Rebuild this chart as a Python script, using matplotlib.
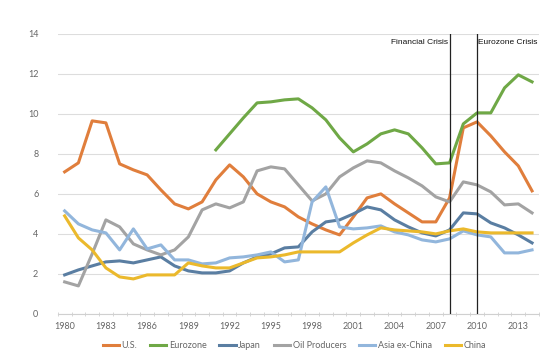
import matplotlib
matplotlib.use("Agg")
import matplotlib.pyplot as plt
import numpy as np

plt.rcParams['font.family'] = ['Lato', 'DejaVu Sans']

years = np.arange(1980, 2015)

us = [7.1, 7.55, 9.65, 9.55, 7.5, 7.2, 6.95, 6.2, 5.5, 5.25, 5.6, 6.7, 7.45, 6.85, 6.0,
      5.6, 5.35, 4.85, 4.5, 4.2, 3.95, 4.85, 5.8, 6.0, 5.5, 5.05, 4.6, 4.6, 5.8, 9.3,
      9.6, 8.9, 8.1, 7.4, 6.15]
euro_years = np.arange(1991, 2015)
eurozone = [8.2, 9.0, 9.8, 10.55, 10.6, 10.7, 10.75, 10.3, 9.7, 8.8, 8.1, 8.5, 9.0, 9.2,
            9.0, 8.3, 7.5, 7.55, 9.5, 10.05, 10.05, 11.3, 11.95, 11.6]
japan = [1.95, 2.2, 2.4, 2.6, 2.65, 2.55, 2.7, 2.85, 2.4, 2.15, 2.05, 2.05, 2.15, 2.55, 2.85,
         3.0, 3.3, 3.35, 4.1, 4.6, 4.7, 5.0, 5.35, 5.2, 4.7, 4.35, 4.05, 3.9, 4.2, 5.05,
         5.0, 4.55, 4.3, 3.95, 3.55]
oil = [1.6, 1.4, 3.0, 4.7, 4.35, 3.5, 3.2, 2.95, 3.2, 3.85, 5.2, 5.5, 5.3, 5.6, 7.15,
       7.35, 7.25, 6.45, 5.65, 6.0, 6.85, 7.3, 7.65, 7.55, 7.15, 6.8, 6.4, 5.85, 5.6, 6.6,
       6.45, 6.1, 5.45, 5.5, 5.05]
asia = [5.15, 4.5, 4.2, 4.05, 3.2, 4.25, 3.25, 3.45, 2.7, 2.7, 2.5, 2.55, 2.8, 2.85, 2.95,
        3.1, 2.6, 2.7, 5.6, 6.35, 4.35, 4.25, 4.3, 4.4, 4.1, 3.95, 3.7, 3.6, 3.75, 4.15,
        3.95, 3.85, 3.05, 3.05, 3.2]
china = [4.9, 3.8, 3.2, 2.3, 1.85, 1.75, 1.95, 1.95, 1.95, 2.55, 2.4, 2.3, 2.3, 2.55, 2.8,
         2.85, 2.95, 3.1, 3.1, 3.1, 3.1, 3.55, 3.95, 4.3, 4.2, 4.15, 4.1, 4.0, 4.15, 4.25,
         4.1, 4.05, 4.05, 4.05, 4.05]

crises = [(2008, 'Financial Crisis'), (2010, 'Eurozone Crisis')]

colors = {'U.S.': '#E07E3C', 'Eurozone': '#6FA846', 'Japan': '#5A7EA2',
          'Oil Producers': '#A3A3A3', 'Asia ex-China': '#92B6DC', 'China': '#EBB92C'}

fig = plt.figure(figsize=(5.4, 3.6), dpi=100)
ax = fig.add_axes([0.107, 0.128, 0.891, 0.778])

lw = 2.2
ax.plot(years, us, color=colors['U.S.'], lw=lw, label='U.S.')
ax.plot(euro_years, eurozone, color=colors['Eurozone'], lw=lw, label='Eurozone')
ax.plot(years, japan, color=colors['Japan'], lw=lw, label='Japan')
ax.plot(years, oil, color=colors['Oil Producers'], lw=lw, label='Oil Producers')
ax.plot(years, asia, color=colors['Asia ex-China'], lw=lw, label='Asia ex-China')
ax.plot(years, china, color=colors['China'], lw=lw, label='China')

for yr, txt in crises:
    ax.axvline(yr, color='#222222', lw=0.9, zorder=5)
ax.text(crises[0][0] - 0.12, 13.55, crises[0][1], ha='right', va='center',
        fontsize=6.0, family=['Liberation Sans', 'DejaVu Sans'], color='#111111')
ax.text(crises[1][0] + 0.1, 13.55, crises[1][1], ha='left', va='center',
        fontsize=6.0, family=['Liberation Sans', 'DejaVu Sans'], color='#111111')

ax.set_xlim(1979.5, 2014.5)
ax.set_ylim(0, 14)
ax.set_yticks(range(0, 15, 2))
ax.set_xticks(range(1980, 2015, 3))
ax.set_xticks(np.arange(1979.5, 2015, 1), minor=True)
ax.tick_params(axis='x', which='major', length=0, pad=6, labelsize=6.5, labelcolor='#666666')
ax.tick_params(axis='x', which='minor', length=3, direction='inout', color='#D0D0D0')
ax.tick_params(axis='y', length=0, pad=14, labelsize=6.5, labelcolor='#666666')
ax.grid(True, axis='y', color='#DDDDDD', lw=0.8)
ax.set_axisbelow(True)
for s in ['top', 'right', 'left']:
    ax.spines[s].set_visible(False)
ax.spines['bottom'].set_color('#D0D0D0')

leg = fig.legend(loc='center', bbox_to_anchor=(0.545, 0.04), ncol=6, frameon=False,
                 fontsize=6.5, handlelength=1.8, handletextpad=0.3, columnspacing=1.4)
for t in leg.get_texts():
    t.set_color('#666666')

fig.savefig('out.png', dpi=100)
